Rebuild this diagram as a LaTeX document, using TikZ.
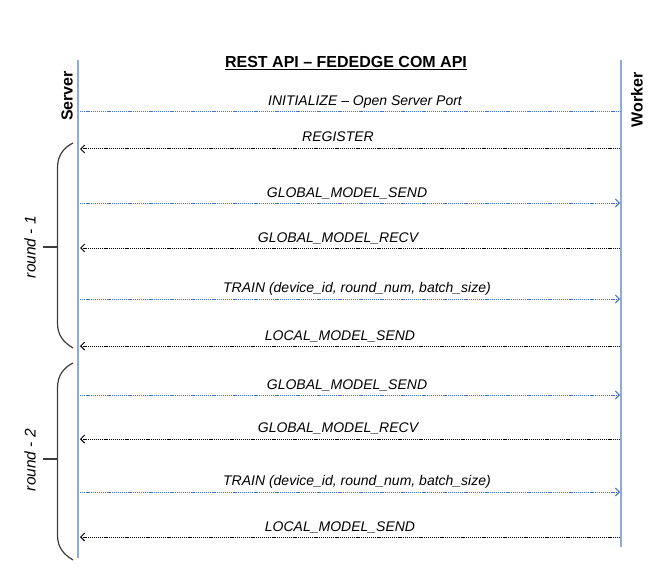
\documentclass[tikz,border=0pt]{standalone}
\usepackage{fontspec}
\setmainfont{Liberation Sans}
\usetikzlibrary{arrows.meta}

\definecolor{lifeblue}{RGB}{143,170,220}
\definecolor{msgblue}{RGB}{68,114,196}
\definecolor{bracegray}{RGB}{60,60,60}

\begin{document}
\begin{tikzpicture}[x=1pt, y=-1pt,
    lifeline/.style={draw=lifeblue, line width=2pt},
    party/.style={font=\bfseries\fontsize{16}{18}\selectfont, rotate=90},
    tip/.style={-{Straight Barb[length=4pt, width=8pt]}},
    toworker/.style={draw=msgblue, line width=1pt, dash pattern=on 1.2pt off 0.9pt},
    toserver/.style={draw=black, line width=1pt, dash pattern=on 1.2pt off 0.9pt},
    msglabel/.style={font=\itshape\fontsize{14}{16}\selectfont, anchor=base, inner sep=0pt},
    roundlabel/.style={font=\itshape\fontsize{15.5}{18}\selectfont, rotate=90},
    roundbrace/.style={draw=bracegray, line width=1.2pt}]

    \useasboundingbox (0, 0) rectangle (664, 575);

    % title and lifelines
    \node[font=\bfseries\fontsize{16}{18}\selectfont, anchor=base, inner sep=0pt]
        (title) at (346, 68) {\underline{REST API – FEDEDGE COM API}};
    \coordinate (srvtop) at (78, 60);
    \coordinate (srvbot) at (78, 558);
    \coordinate (wkrtop) at (621, 60);
    \coordinate (wkrbot) at (621, 547);
    \draw[lifeline] (srvtop) -- (srvbot);
    \draw[lifeline] (wkrtop) -- (wkrbot);
    \node[party] (server) at (67, 96) {Server};
    \node[party] (worker) at (637, 100) {Worker};

    % message end points on both lifelines
    \foreach \i/\y in {1/112, 2/149, 3/203, 4/248, 5/299, 6/346,
                       7/395, 8/439, 9/492, 10/537} {
        \coordinate (s\i) at (80, \y);
        \coordinate (w\i) at (620, \y);
    }

    % set up
    \draw[toworker] (s1) -- (w1);
    \node[msglabel] (init) at (365, 106) {INITIALIZE – Open Server Port};
    \draw[toserver, tip] (w2) -- (s2);
    \node[msglabel] (register) at (338, 142) {REGISTER};

    % round 1
    \draw[toworker, tip] (s3) -- (w3);
    \node[msglabel] (send1) at (347, 197) {GLOBAL\_MODEL\_SEND};
    \draw[toserver, tip] (w4) -- (s4);
    \node[msglabel] (recv1) at (338, 242) {GLOBAL\_MODEL\_RECV};
    \draw[toworker, tip] (s5) -- (w5);
    \node[msglabel] (train1) at (357, 292)
        {TRAIN (device\_id, round\_num, batch\_size)};
    \draw[toserver, tip] (w6) -- (s6);
    \node[msglabel] (local1) at (340, 340) {LOCAL\_MODEL\_SEND};

    % round 2
    \draw[toworker, tip] (s7) -- (w7);
    \node[msglabel] (send2) at (347, 389) {GLOBAL\_MODEL\_SEND};
    \draw[toserver, tip] (w8) -- (s8);
    \node[msglabel] (recv2) at (338, 432) {GLOBAL\_MODEL\_RECV};
    \draw[toworker, tip] (s9) -- (w9);
    \node[msglabel] (train2) at (357, 485)
        {TRAIN (device\_id, round\_num, batch\_size)};
    \draw[toserver, tip] (w10) -- (s10);
    \node[msglabel] (local2) at (340, 531) {LOCAL\_MODEL\_SEND};

    % braces
    \draw[roundbrace] (73, 143) .. controls (63, 148) and (57.5, 156) ..
        (57.5, 168) -- (57.5, 323) .. controls (57.5, 335) and (63, 342) ..
        (73, 348);
    \draw[roundbrace] (43, 247) -- (57.5, 247);
    \node[roundlabel] (round1) at (30, 247) {round - 1};

    \draw[roundbrace] (73, 363) .. controls (63, 368) and (57.5, 376) ..
        (57.5, 388) -- (57.5, 535) .. controls (57.5, 547) and (63, 554) ..
        (73, 560);
    \draw[roundbrace] (43, 459) -- (57.5, 459);
    \node[roundlabel] (round2) at (30, 460) {round - 2};
\end{tikzpicture}
\end{document}
